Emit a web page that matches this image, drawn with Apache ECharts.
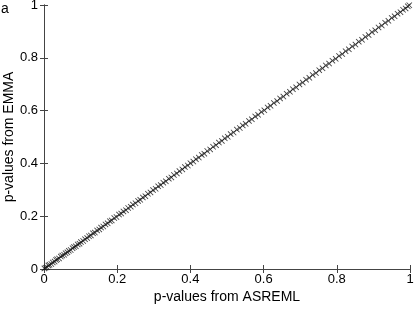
<!DOCTYPE html>
<html>
<head>
<meta charset="utf-8">
<script src="https://cdn.jsdelivr.net/npm/echarts@6/dist/echarts.min.js"></script>
<style>
  html, body { margin: 0; padding: 0; background: #fff; }
  #main { width: 415px; height: 309px; }
</style>
</head>
<body>
<div id="main"></div>
<script>
// p-values (x = ASREML, y = EMMA)
const asreml = [0.001, 0.004, 0.008, 0.012, 0.015, 0.02, 0.024, 0.029, 0.033, 0.036, 0.041, 0.046, 0.05, 0.055, 0.059, 0.064, 0.068, 0.073, 0.078, 0.082, 0.087, 0.092, 0.097, 0.101, 0.107, 0.112, 0.118, 0.123, 0.128, 0.134, 0.139, 0.145, 0.151, 0.156, 0.162, 0.168, 0.174, 0.18, 0.185, 0.192, 0.198, 0.205, 0.211, 0.217, 0.224, 0.23, 0.237, 0.243, 0.25, 0.257, 0.263, 0.27, 0.277, 0.284, 0.291, 0.298, 0.305, 0.312, 0.319, 0.326, 0.333, 0.341, 0.348, 0.355, 0.363, 0.37, 0.378, 0.385, 0.393, 0.4, 0.408, 0.415, 0.423, 0.431, 0.438, 0.446, 0.454, 0.462, 0.47, 0.478, 0.486, 0.494, 0.502, 0.51, 0.518, 0.527, 0.535, 0.543, 0.551, 0.56, 0.568, 0.577, 0.585, 0.594, 0.602, 0.611, 0.619, 0.628, 0.637, 0.645, 0.654, 0.663, 0.672, 0.68, 0.689, 0.698, 0.707, 0.716, 0.725, 0.734, 0.743, 0.752, 0.761, 0.77, 0.779, 0.788, 0.797, 0.806, 0.815, 0.824, 0.833, 0.842, 0.851, 0.86, 0.869, 0.878, 0.887, 0.896, 0.905, 0.914, 0.923, 0.932, 0.941, 0.95, 0.958, 0.966, 0.974, 0.981, 0.988, 0.994, 0.998];
const emma = [0.002, 0.005, 0.007, 0.013, 0.016, 0.019, 0.025, 0.028, 0.034, 0.037, 0.04, 0.047, 0.051, 0.054, 0.06, 0.063, 0.069, 0.072, 0.079, 0.083, 0.086, 0.093, 0.096, 0.102, 0.106, 0.113, 0.117, 0.124, 0.127, 0.135, 0.138, 0.146, 0.15, 0.157, 0.161, 0.169, 0.173, 0.181, 0.184, 0.193, 0.197, 0.206, 0.21, 0.218, 0.223, 0.231, 0.236, 0.244, 0.249, 0.258, 0.262, 0.271, 0.276, 0.285, 0.29, 0.299, 0.304, 0.313, 0.318, 0.327, 0.332, 0.342, 0.347, 0.356, 0.362, 0.371, 0.377, 0.386, 0.392, 0.401, 0.407, 0.416, 0.422, 0.432, 0.437, 0.447, 0.453, 0.463, 0.469, 0.479, 0.485, 0.495, 0.501, 0.511, 0.517, 0.528, 0.534, 0.544, 0.55, 0.561, 0.567, 0.578, 0.584, 0.595, 0.601, 0.612, 0.618, 0.629, 0.636, 0.646, 0.653, 0.664, 0.671, 0.681, 0.688, 0.699, 0.706, 0.717, 0.724, 0.735, 0.742, 0.753, 0.76, 0.771, 0.778, 0.789, 0.796, 0.807, 0.814, 0.825, 0.832, 0.843, 0.85, 0.861, 0.868, 0.879, 0.886, 0.897, 0.904, 0.915, 0.922, 0.933, 0.94, 0.951, 0.957, 0.967, 0.973, 0.982, 0.987, 0.995, 0.999];
const ticks = [0, 0.2, 0.4, 0.6, 0.8, 1];

const points = asreml.map((x, i) => [x, emma[i]]);
const axisColor = '#444';
const fmt = v => (ticks.includes(v) ? String(v) : '');

const myChart = echarts.init(document.getElementById('main'), null, { renderer: 'canvas' });

const boxAxis = {
  type: 'value', min: 0, max: 1, interval: 0.2,
  axisLine: { show: true, lineStyle: { color: axisColor, width: 1 } },
  axisTick: { show: true, inside: true, length: 4, lineStyle: { color: axisColor } },
  axisLabel: { show: false },
  splitLine: { show: false }
};

myChart.setOption({
  animation: false,
  backgroundColor: '#fff',
  grid: { left: 44, right: 5, top: 5, bottom: 40, containLabel: false, outerBoundsMode: 'none' },
  graphic: [
    { type: 'text', left: 1, top: 2, style: { text: 'a', font: '14px "Liberation Sans", Arial, sans-serif', fill: '#000' } }
  ],
  xAxis: [
    {
      type: 'value', min: 0, max: 1, interval: 0.2, position: 'bottom',
      name: 'p-values from ASREML', nameLocation: 'middle', nameGap: 21, nameMoveOverlap: false,
      nameTextStyle: { fontFamily: 'Liberation Sans', fontSize: 14, color: '#000' },
      axisLine: { show: true, lineStyle: { color: axisColor, width: 1 } },
      axisTick: { show: true, inside: true, length: 4, lineStyle: { color: axisColor } },
      axisLabel: { formatter: fmt, margin: 4, fontFamily: 'Liberation Sans', fontSize: 13, color: '#000' },
      splitLine: { show: false }
    },
    Object.assign({}, boxAxis, { position: 'top' })
  ],
  yAxis: [
    {
      type: 'value', min: 0, max: 1, interval: 0.2, position: 'left',
      name: 'p-values from EMMA', nameLocation: 'middle', nameGap: 28, nameMoveOverlap: false,
      nameTextStyle: { fontFamily: 'Liberation Sans', fontSize: 14, color: '#000' },
      axisLine: { show: true, lineStyle: { color: axisColor, width: 1 } },
      axisTick: { show: true, inside: true, length: 4, lineStyle: { color: axisColor } },
      axisLabel: { formatter: fmt, margin: 6, fontFamily: 'Liberation Sans', fontSize: 13, color: '#000' },
      splitLine: { show: false }
    },
    Object.assign({}, boxAxis, { position: 'right' })
  ],
  series: [
    {
      type: 'scatter',
      xAxisIndex: 0,
      yAxisIndex: 0,
      data: points,
      symbol: 'path://M0,1L1,0L5,4L9,0L10,1L6,5L10,9L9,10L5,6L1,10L0,9L4,5Z',
      symbolSize: 6,
      itemStyle: { color: '#111', opacity: 0.8 }
    }
  ]
});
</script>
</body>
</html>
